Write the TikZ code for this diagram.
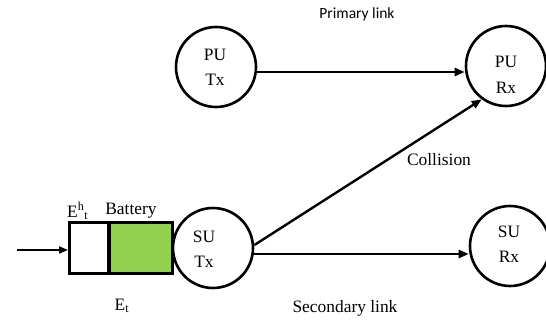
\documentclass[tikz,border=0pt]{standalone}
\usepackage{fontspec}
\setmainfont{Liberation Serif}
\newfontfamily\calfont{Carlito}
\usetikzlibrary{arrows.meta}
\definecolor{battgreen}{RGB}{146,208,80}
\begin{document}
\begin{tikzpicture}[x=1pt,y=-1pt,
  unit/.style={draw,circle,line width=2.6pt,minimum size=80pt,inner sep=0pt},
  lbl/.style={inner sep=0pt,font=\fontsize{17.4}{20}\selectfont},
  link/.style={line width=2.4pt,-{Triangle[length=10pt,width=8pt]}},
  box/.style={draw,line width=2.8pt}]
\useasboundingbox (0,0) rectangle (546,320);
% circles
\node[unit] (putx) at (216,67) {};
\node[unit] (purx) at (506,66) {};
\node[unit] (sutx) at (213,248) {};
\node[unit] (surx) at (510,246) {};
% circle texts
\node[lbl] (putxa) at (215,55) {PU};
\node[lbl] (putxb) at (215,80) {Tx};
\node[lbl] (purxa) at (506,62) {PU};
\node[lbl] (purxb) at (506,88) {Rx};
\node[lbl] (sutxa) at (204,237) {SU};
\node[lbl] (sutxb) at (204,262) {Tx};
\node[lbl] (surxa) at (509,232) {SU};
\node[lbl] (surxb) at (509,257) {Rx};
% battery
\node[box,fill=white,minimum width=39pt,minimum height=51pt,inner sep=0pt,anchor=north west] (cell) at (68,221) {};
\node[box,fill=battgreen,minimum width=63pt,minimum height=51pt,inner sep=0pt,anchor=north west] (batt) at (108,221) {};
\coordinate (inp) at (17,250);
\draw[link,line width=2pt,-{Triangle[length=9pt,width=7pt]}] (inp) -- (inp -| cell.west);
% links
\draw[link] (putx.east |- 0,72) -- (purx.west |- 0,72);
\draw[link] (sutx.east |- 0,254) -- (surx.west |- 0,254);
\draw[link] (sutx.4) -- (purx.-126);
% labels
\node[inner sep=0pt,font=\calfont\fontsize{15.5}{18}\selectfont] (plink) at (357,14) {Primary link};
\node[lbl] (coll) at (439,160) {Collision};
\node[lbl] (slink) at (345,308) {Secondary link};
\node[lbl] (battl) at (131,211) {Battery};
\node[lbl,anchor=west] (eht) at (67,211) {E\textsuperscript{h}\textsubscript{t}};
\node[lbl] (et) at (122,306) {E\textsubscript{t}};
\end{tikzpicture}
\end{document}
